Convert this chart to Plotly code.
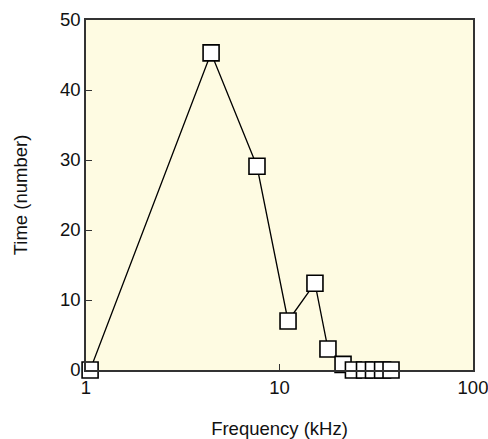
import plotly.graph_objects as go

freq_khz = [1.05, 4.43, 7.65, 11.07, 15.25, 17.8, 21.3, 24.1, 27.5, 30.6, 34.1, 37.7]
time_number = [0, 45.3, 29.1, 7.0, 12.4, 3.0, 0.8, 0, 0, 0, 0, 0]
x_ticks = [1, 10, 100]
y_ticks = [0, 10, 20, 30, 40, 50]

fig = go.Figure()
fig.add_trace(go.Scatter(
    x=freq_khz, y=time_number, mode="lines+markers",
    line=dict(color="black", width=1.3),
    marker=dict(symbol="square", size=16, color="white",
                line=dict(color="black", width=1.6)),
    cliponaxis=False, showlegend=False,
))

font = dict(family="Liberation Sans, Arial, sans-serif", size=18.5, color="#111")
tickfont = dict(family="Liberation Sans, Arial, sans-serif", size=18.5, color="#111")
fig.update_layout(
    width=488, height=439,
    margin=dict(l=86, r=15, t=20, b=69),
    paper_bgcolor="white", plot_bgcolor="#FEFBE2",
    font=font,
    xaxis=dict(type="log", range=[0, 2], tickvals=x_ticks,
               ticktext=[str(v) for v in x_ticks], tickfont=tickfont,
               ticklabeloverflow="allow",
               ticks="inside", ticklen=6, tickcolor="#333",
               showline=True, linecolor="#333", linewidth=1.5, mirror=True,
               showgrid=False, zeroline=False, automargin=False,
               title=dict(text="Frequency (kHz)", standoff=26, font=font)),
    yaxis=dict(range=[0, 50], tickvals=y_ticks, tickfont=tickfont,
               ticklabeloverflow="allow",
               ticks="inside", ticklen=6, tickcolor="#333",
               showline=True, linecolor="#333", linewidth=1.5, mirror=True,
               showgrid=False, zeroline=False, automargin=False,
               title=dict(text="Time (number)", standoff=27, font=font)),
)
fig.write_html(
    "out.html",
    config={"displayModeBar": False},
    post_script="document.body.style.margin='0';document.body.style.overflow='hidden';",
)
